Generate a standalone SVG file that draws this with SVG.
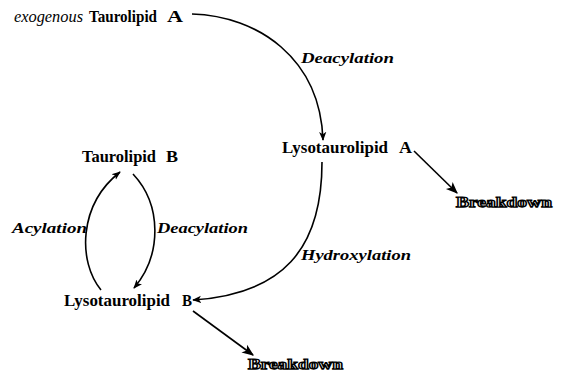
<svg xmlns="http://www.w3.org/2000/svg" width="563" height="373" viewBox="0 0 563 373">
<style>
.n{font-family:"Liberation Serif","Times New Roman",serif;font-weight:bold;font-size:16px;fill:#000}
.it{font-family:"Liberation Serif","Times New Roman",serif;font-style:italic;font-size:16px;fill:#000}
.lb{font-family:"Liberation Serif","Times New Roman",serif;font-style:italic;font-weight:bold;font-size:15px;fill:#000}
.bd{font-family:"Liberation Serif","Times New Roman",serif;font-weight:bold;font-size:15px;fill:#fff;stroke:#000;stroke-width:1.25px}
.c{fill:none;stroke:#000;stroke-width:1.6}
</style>
<defs>
<marker id="ah" viewBox="0 0 10 10" refX="9" refY="5" markerWidth="9" markerHeight="9" markerUnits="userSpaceOnUse" orient="auto">
<path d="M0,1 L10,5 L0,9 L2.5,5 Z" fill="#000"/>
</marker>
<marker id="ah2" viewBox="0 0 10 10" refX="9" refY="5" markerWidth="12" markerHeight="12" markerUnits="userSpaceOnUse" orient="auto">
<path d="M0,1 L10,5 L0,9 L2.5,5 Z" fill="#000"/>
</marker>
</defs>
<g id="taurolipidA"><text class="it" x="14" y="22" textLength="69" lengthAdjust="spacingAndGlyphs">exogenous</text><text class="n" x="89" y="22" textLength="68" lengthAdjust="spacingAndGlyphs">Taurolipid</text><text class="n" x="167" y="22" textLength="16" lengthAdjust="spacingAndGlyphs">A</text></g>
<g id="lysoA"><text class="n" x="282" y="153" textLength="106" lengthAdjust="spacingAndGlyphs">Lysotaurolipid</text><text class="n" x="399" y="153" textLength="13" lengthAdjust="spacingAndGlyphs">A</text></g>
<g id="breakdownA"><text class="bd" x="456" y="207" textLength="96" lengthAdjust="spacingAndGlyphs">Breakdown</text></g>
<g id="taurolipidB"><text class="n" x="82" y="162" textLength="74" lengthAdjust="spacingAndGlyphs">Taurolipid</text><text class="n" x="166" y="162" textLength="12" lengthAdjust="spacingAndGlyphs">B</text></g>
<g id="lysoB"><text class="n" x="64" y="306" textLength="106" lengthAdjust="spacingAndGlyphs">Lysotaurolipid</text><text class="n" x="182" y="306" textLength="10" lengthAdjust="spacingAndGlyphs">B</text></g>
<g id="breakdownB"><text class="bd" x="248" y="369" textLength="95" lengthAdjust="spacingAndGlyphs">Breakdown</text></g>
<g id="connectors">
<path class="c" d="M192,14 C258,16 320,58 323,140" marker-end="url(#ah)"/>
<path class="c" d="M322,162 C322,250 282,294 193,300" marker-end="url(#ah)"/>
<path class="c" d="M414,151 L457,193" marker-end="url(#ah2)"/>
<path class="c" d="M193,311 L253,355" marker-end="url(#ah2)"/>
<path class="c" d="M101,290 C78,262 78,205 120,172" marker-end="url(#ah)"/>
<path class="c" d="M133,174 C162,205 162,255 134,288" marker-end="url(#ah)"/>
<text class="lb" x="301" y="63" textLength="93" lengthAdjust="spacingAndGlyphs">Deacylation</text>
<text class="lb" x="301" y="260" textLength="110" lengthAdjust="spacingAndGlyphs">Hydroxylation</text>
<text class="lb" x="12" y="233" textLength="75" lengthAdjust="spacingAndGlyphs">Acylation</text>
<text class="lb" x="157" y="233" textLength="91" lengthAdjust="spacingAndGlyphs">Deacylation</text>
</g>
</svg>
